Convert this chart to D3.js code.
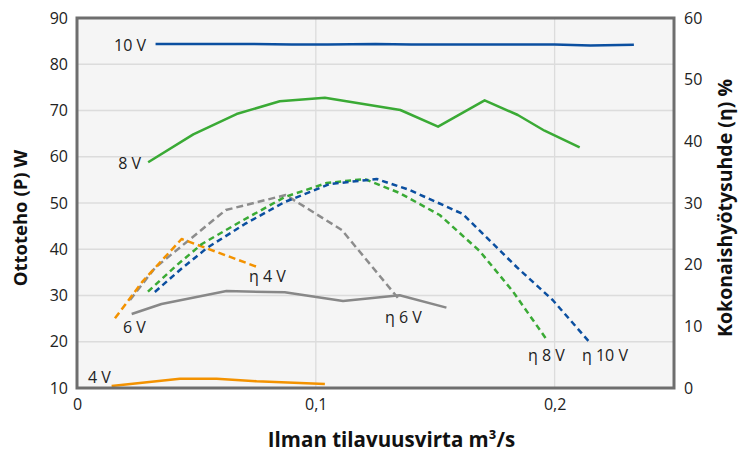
<!DOCTYPE html>
<html><head><meta charset="utf-8">
<script src="https://cdn.jsdelivr.net/npm/d3@7/dist/d3.min.js"></script>
<style>body{margin:0;background:#fff}svg{display:block}text{font-family:"Open Sans",sans-serif}</style>
</head><body><svg id="c" width="739" height="459"></svg>
<script>
// Power curves (left axis, W)
const p10x = [0.0329,0.050,0.070,0.090,0.105,0.125,0.140,0.160,0.180,0.200,0.215,0.2332];
const p10y = [84.4,84.4,84.4,84.25,84.25,84.4,84.25,84.25,84.25,84.25,84.05,84.2];
const p8x = [0.0298,0.0487,0.0668,0.0849,0.1038,0.1354,0.1512,0.1707,0.1846,0.1958,0.2105];
const p8y = [58.8,64.85,69.24,71.99,72.77,70.11,66.5,72.2,69.03,65.63,62.04];
const p6x = [0.0229,0.0354,0.0626,0.0870,0.1114,0.1351,0.1547];
const p6y = [26.0,28.16,30.97,30.69,28.81,30.05,27.37];
const p4x = [0.0145,0.0431,0.0585,0.0752,0.1038];
const p4y = [10.43,12.01,12.01,11.45,10.86];
// Efficiency curves (right axis, %)
const e4x = [0.0159,0.0276,0.0438,0.0752];
const e4y = [11.3,17.35,24.16,19.67];
const e6x = [0.0222,0.0326,0.0623,0.0874,0.1109,0.1351];
const e6y = [14.27,19.46,28.86,31.3,25.62,14.27];
const e8x = [0.0297,0.0414,0.0523,0.0682,0.0870,0.1046,0.1205,0.1351,0.1519,0.1686,0.1824,0.1962];
const e8y = [15.62,19.79,23.35,26.92,30.97,33.24,33.89,31.62,28.05,22.22,15.73,8.11];
const e10x = [0.0326,0.0431,0.0544,0.0703,0.0870,0.1059,0.1255,0.1393,0.1615,0.1841,0.1992,0.2142];
const e10y = [15.57,19.14,22.7,26.6,30.16,33.08,33.89,32.11,28.22,19.62,14.27,7.62];

const xTicks = [0,0.1,0.2];
const xTickLabels = ["0","0,1","0,2"];
const yLeftTicks = [10,20,30,40,50,60,70,80,90];
const yRightTicks = [0,10,20,30,40,50,60];

const L=77,R=674,T=18,B=388;
const svg=d3.select("#c");
const x=d3.scaleLinear().domain([0,0.25]).range([L,R]);
const yl=d3.scaleLinear().domain([10,90]).range([B,T]);
const yr=d3.scaleLinear().domain([0,60]).range([B,T]);

svg.append("rect").attr("x",L).attr("y",T).attr("width",R-L).attr("height",B-T).attr("fill","#f5f5f5");
const g=svg.append("g");
yLeftTicks.forEach(v=>g.append("line").attr("x1",L).attr("x2",R).attr("y1",yl(v)).attr("y2",yl(v)).attr("stroke","#dcdcdc").attr("stroke-width",1.3));
xTicks.forEach(v=>g.append("line").attr("x1",x(v)).attr("x2",x(v)).attr("y1",T).attr("y2",B).attr("stroke","#dcdcdc").attr("stroke-width",1.3));

const line=(xs,ys,ys2)=>d3.line().x((d,i)=>x(xs[i])).y((d,i)=>ys2(d))(ys);
const series=[
 [p10x,p10y,yl,"#0b4fa0",null],
 [p8x,p8y,yl,"#3aaa35",null],
 [p6x,p6y,yl,"#888888",null],
 [p4x,p4y,yl,"#f39200",null],
 [e6x,e6y,yr,"#8c8c8c","7,4"],
 [e4x,e4y,yr,"#f39200","7,4"],
 [e8x,e8y,yr,"#3aaa35","6,4"],
 [e10x,e10y,yr,"#0b4fa0","6,4"]
];
series.forEach(s=>{
  svg.append("path").attr("d",line(s[0],s[1],s[2])).attr("fill","none").attr("stroke",s[3]).attr("stroke-width",2.5)
   .attr("stroke-dasharray",s[4]).attr("stroke-linejoin","round");
});
svg.append("rect").attr("x",L).attr("y",T).attr("width",R-L).attr("height",B-T).attr("fill","none").attr("stroke","#6e6e6e").attr("stroke-width",3);

// axes
const axL=svg.append("g").attr("transform",`translate(${L-9},0)`).call(d3.axisLeft(yl).tickValues(yLeftTicks).tickSize(0).tickPadding(0));
const axR=svg.append("g").attr("transform",`translate(${R+10},0)`).call(d3.axisRight(yr).tickValues(yRightTicks).tickSize(0).tickPadding(0));
const axB=svg.append("g").attr("transform",`translate(0,${B+11})`).call(d3.axisBottom(x).tickValues(xTicks).tickFormat((d,i)=>xTickLabels[i]).tickSize(0).tickPadding(0));
[axL,axR,axB].forEach(a=>{a.select(".domain").remove();a.selectAll("text").attr("font-size",16).attr("fill","#222").attr("font-family","'Open Sans',sans-serif");});
axB.selectAll("text").attr("dy","0.71em");

svg.append("text").attr("x",(L+R)/2+16).attr("y",447).attr("text-anchor","middle").attr("font-size",20.5).attr("font-weight","bold").attr("fill","#111").text("Ilman tilavuusvirta m³/s");
svg.append("text").attr("transform",`translate(27,${(T+B)/2+15}) rotate(-90)`).attr("text-anchor","middle").attr("font-size",18.5).attr("font-weight","bold").attr("fill","#111").text("Ottoteho (P) W");
svg.append("text").attr("transform",`translate(732,${(T+B)/2+5}) rotate(-90)`).attr("text-anchor","middle").attr("font-size",19.5).attr("font-weight","bold").attr("fill","#111").text("Kokonaishyötysuhde (η) %");

const labels=[["10 V",146,45,"end"],["8 V",141,163,"end"],["6 V",123,327,"start"],["4 V",88,377,"start"],
 ["η 4 V",249,276,"start"],["η 6 V",385,317,"start"],["η 8 V",528,355,"start"],["η 10 V",582,355,"start"]];
labels.forEach(l=>svg.append("text").attr("x",l[1]).attr("y",l[2]).attr("dy","0.35em").attr("text-anchor",l[3]).attr("font-size",16).attr("fill","#222").text(l[0]));
</script></body></html>
